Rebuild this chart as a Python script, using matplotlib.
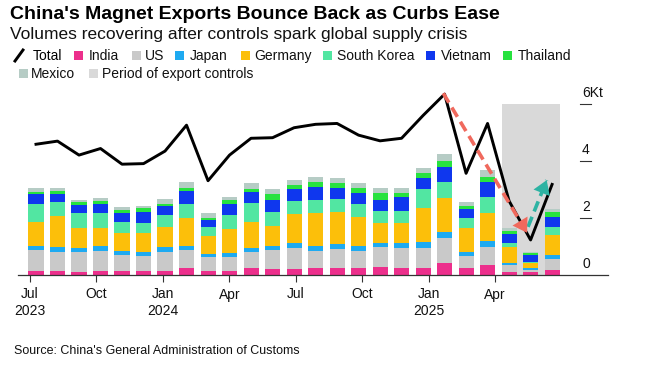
import numpy as np
import matplotlib.pyplot as plt
from matplotlib.patches import Rectangle
from matplotlib.lines import Line2D
from matplotlib.transforms import blended_transform_factory

plt.rcParams['font.family'] = ['Liberation Sans', 'DejaVu Sans']

# Monthly exports, thousand tonnes (Kt)
months = ['Jul 2023', 'Aug 2023', 'Sep 2023', 'Oct 2023', 'Nov 2023', 'Dec 2023',
          'Jan 2024', 'Feb 2024', 'Mar 2024', 'Apr 2024', 'May 2024', 'Jun 2024',
          'Jul 2024', 'Aug 2024', 'Sep 2024', 'Oct 2024', 'Nov 2024', 'Dec 2024',
          'Jan 2025', 'Feb 2025', 'Mar 2025', 'Apr 2025', 'May 2025', 'Jun 2025',
          'Jul 2025']
total = [4.59, 4.70, 4.21, 4.44, 3.89, 3.91, 4.35, 5.26, 3.31, 4.21, 4.80, 4.82,
         5.17, 5.29, 5.32, 4.91, 4.71, 4.80, 5.60, 6.35, 3.57, 5.32, 2.60, 1.23, 3.18]
india = [0.14, 0.14, 0.12, 0.14, 0.15, 0.13, 0.15, 0.23, 0.15, 0.15, 0.23, 0.20,
         0.20, 0.26, 0.23, 0.23, 0.29, 0.26, 0.26, 0.41, 0.26, 0.35, 0.11, 0.11, 0.18]
us = [0.74, 0.66, 0.68, 0.70, 0.55, 0.55, 0.67, 0.65, 0.47, 0.49, 0.59, 0.68,
      0.74, 0.58, 0.68, 0.61, 0.70, 0.70, 0.70, 0.88, 0.42, 0.62, 0.24, 0.08, 0.37]
japan = [0.14, 0.19, 0.16, 0.18, 0.15, 0.14, 0.15, 0.14, 0.12, 0.14, 0.12, 0.15,
         0.17, 0.19, 0.18, 0.19, 0.14, 0.17, 0.21, 0.23, 0.14, 0.23, 0.08, 0.04, 0.15]
germany = [0.85, 1.08, 0.68, 0.64, 0.61, 0.67, 0.70, 0.99, 0.63, 0.83, 0.93, 0.70,
           1.02, 1.13, 1.13, 0.99, 0.68, 0.68, 1.19, 1.17, 0.82, 0.96, 0.56, 0.18, 0.70]
south_korea = [0.62, 0.48, 0.52, 0.53, 0.39, 0.35, 0.44, 0.48, 0.30, 0.50, 0.67, 0.49,
               0.48, 0.47, 0.45, 0.47, 0.44, 0.45, 0.65, 0.58, 0.35, 0.57, 0.12, 0.06, 0.27]
vietnam = [0.34, 0.30, 0.30, 0.31, 0.31, 0.38, 0.31, 0.46, 0.26, 0.37, 0.36, 0.41,
           0.41, 0.47, 0.37, 0.38, 0.38, 0.47, 0.41, 0.53, 0.33, 0.54, 0.33, 0.23, 0.35]
thailand = [0.09, 0.10, 0.09, 0.10, 0.13, 0.12, 0.08, 0.09, 0.08, 0.15, 0.12, 0.20,
            0.14, 0.17, 0.18, 0.17, 0.24, 0.16, 0.15, 0.20, 0.11, 0.18, 0.09, 0.06, 0.20]
mexico = [0.12, 0.11, 0.09, 0.09, 0.08, 0.09, 0.17, 0.23, 0.15, 0.12, 0.20, 0.18,
          0.17, 0.18, 0.17, 0.18, 0.17, 0.17, 0.17, 0.25, 0.12, 0.23, 0.11, 0.06, 0.10]

countries = ['India', 'US', 'Japan', 'Germany', 'South Korea', 'Vietnam', 'Thailand', 'Mexico']
series = [india, us, japan, germany, south_korea, vietnam, thailand, mexico]
colors = ['#ec2f8c', '#c9c9c9', '#1eaaf1', '#fcbf0a', '#52e6a2', '#0f37ee', '#27e23f', '#b6ccc5']
control_months = ['May 2025', 'Jun 2025', 'Jul 2025']
tick_labels = ['Jul\n2023', 'Oct', 'Jan\n2024', 'Apr', 'Jul', 'Oct', 'Jan\n2025', 'Apr']
shade_color = '#d9d9d9'

W, H = 647, 377
fig = plt.figure(figsize=(W / 100, H / 100), dpi=100)
ax = fig.add_axes([18 / W, (H - 275) / H, 590 / W, 188 / H])

x = np.arange(len(months))
bw = 0.7

# period of export controls
i0, i1 = months.index(control_months[0]), months.index(control_months[-1])
ax.add_patch(Rectangle((i0 - bw / 2, 0), i1 - i0 + bw, 6, color=shade_color, lw=0, zorder=1))

bottom = np.zeros(len(months))
for vals, c in zip(series, colors):
    ax.bar(x, vals, bw, bottom=bottom, color=c, lw=0, zorder=2)
    bottom += np.array(vals)

ax.plot(x, total, color='black', lw=2.1, zorder=4)

# dashed trend arrows
def dashed_arrow(p0, p1, c):
    p0, p1 = np.array(p0), np.array(p1)
    ax.plot([p0[0], p1[0]], [p0[1], p1[1]], color=c, lw=2.6, ls=(0, (3, 1.6)),
            zorder=5, solid_capstyle='butt', dash_capstyle='butt')
    ax.annotate('', xy=p1, xytext=p1 - (p1 - p0) * 0.05,
                arrowprops=dict(arrowstyle='-|>,head_length=0.7,head_width=0.45',
                                color=c, lw=0, mutation_scale=14), zorder=6)

dashed_arrow((18.94, 6.38), (22.9, 1.40), '#f0695d')
dashed_arrow((22.88, 1.69), (23.75, 3.33), '#2db3a3')

ax.set_xlim(-0.837, 26.6)
ax.set_ylim(0, 6.6)

# x ticks sit on a slightly wider month grid than the bars, as in the source
tick_pos = -0.28 + 1.03 * np.arange(0, 22, 3)
ax.set_xticks(tick_pos, tick_labels)
ax.tick_params(axis='x', length=5, width=0.8, color='#333333', labelsize=10,
               pad=4, labelcolor='#111111')
ax.set_yticks([])
for s in ['left', 'right', 'top']:
    ax.spines[s].set_visible(False)
ax.spines['bottom'].set_color('#333333')
ax.spines['bottom'].set_linewidth(0.9)

trans = blended_transform_factory(ax.transAxes, ax.transData)
for v, lab in zip([0, 2, 4, 6], ['0', '2', '4', '6Kt']):
    if v:
        ax.plot([0.953, 0.971], [v, v], transform=trans, color='#333333', lw=0.8, clip_on=False)
    ax.text(0.956, v + 0.25, lab, transform=trans, ha='left', va='baseline',
            fontsize=10, color='#111111')

# titles
fig.text(10 / W, 1 - 19 / H, "China's Magnet Exports Bounce Back as Curbs Ease",
         fontsize=14, fontweight='bold', va='baseline')
fig.text(10 / W, 1 - 38.5 / H, 'Volumes recovering after controls spark global supply crisis',
         fontsize=12.5, va='baseline', color='#111111')
fig.text(14 / W, 1 - 354.5 / H, "Source: China's General Administration of Customs",
         fontsize=9, va='baseline', color='#111111')

# legend
def px(xp, yp):
    return xp / W, 1 - yp / H

fig.add_artist(Line2D([15 / W, 23 / W], [1 - 61 / H, 1 - 50 / H], color='black', lw=2.1))
fig.text(*px(33, 60), 'Total', fontsize=10, va='baseline')
legend_items = [
    ('India', colors[0], 74, 89, 60), ('US', colors[1], 132, 145, 60),
    ('Japan', colors[2], 175, 190, 60), ('Germany', colors[3], 241, 254, 60),
    ('South Korea', colors[4], 323, 337, 60), ('Vietnam', colors[5], 426, 441, 60),
    ('Thailand', colors[6], 503, 518, 60), ('Mexico', colors[7], 19, 31, 78),
    ('Period of export controls', shade_color, 89, 102, 78),
]
for lab, c, sx, tx, by in legend_items:
    fig.add_artist(Rectangle(px(sx, by), 9 / W, 9 / H, color=c, lw=0,
                             transform=fig.transFigure))
    fig.text(*px(tx, by), lab, fontsize=10, va='baseline', color='#111111')

fig.savefig('out.png', dpi=100)
